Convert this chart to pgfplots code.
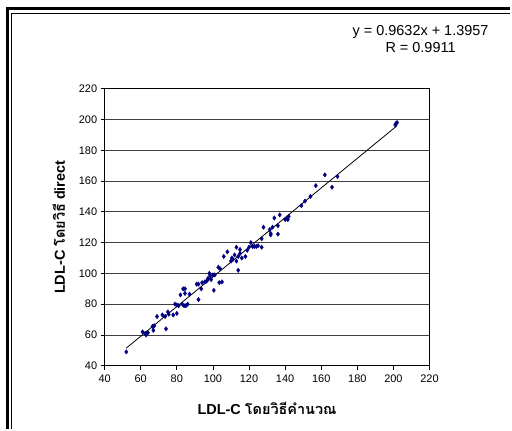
\documentclass[border=0pt]{standalone}
\usepackage{fontspec}
\setmainfont{Liberation Sans}
\newfontfamily\thaifont[Script=Thai]{Loma}
\usepackage{pgfplots}
\pgfplotsset{compat=1.18}
\definecolor{navyb}{RGB}{0,0,128}
\begin{document}
\begin{tikzpicture}
\path (-105bp,-63bp) rectangle (407bp,367bp);
\draw[line width=3.5bp] (-97.5bp,-63bp) -- (-97.5bp,358.5bp) -- (407bp,358.5bp);
\draw[line width=1.2bp] (-93.5bp,-63bp) -- (-93.5bp,353.5bp) -- (407bp,353.5bp);
\begin{axis}[
  at={(0,0)}, anchor=south west,
  scale only axis, width=326bp, height=278bp,
  xmin=40, xmax=220, ymin=40, ymax=220,
  xtick={40,60,...,220}, ytick={40,60,...,220},
  ymajorgrids, grid style={black!75, line width=0.7pt},
  axis line style={black, line width=0.8pt},
  tick align=outside, xtick pos=bottom, ytick pos=left,
  major tick length=4bp, tick style={black, line width=0.7pt},
  /pgf/number format/assume math mode=true,
  ticklabel style={font=\fontsize{11bp}{12bp}\selectfont},
  xticklabel style={yshift=-2bp},
  xlabel={LDL-C {\thaifont\bfseries โดยวิธีคำนวณ}},
  ylabel={LDL-C {\thaifont\bfseries โดยวิธี} direct},
  label style={font=\fontsize{14.5bp}{16bp}\selectfont\bfseries},
  xlabel style={at={(axis description cs:0.5,0)}, anchor=center, yshift=-43bp},
  ylabel style={at={(axis description cs:0,0.5)}, anchor=center, yshift=46bp},
]
\addplot[only marks, mark=diamond*, mark size=2.2bp, color=navyb] coordinates {
(52,49) (61,62) (62.5,61) (63,60) (64,61.5) (66.5,65.5) (67.5,66) (67,63)
(69,72) (72,73) (73.5,72) (74,64) (75,75) (75.5,73.5) (78,73) (79,80)
(80,79.5) (80,74) (81,79) (82,86) (83.5,90) (84.5,90) (83,80) (84,79)
(85,79) (86,80) (84.5,87) (87,86.5) (91,93) (92,93) (92,83) (93.5,90)
(94,94) (95.5,94.5) (96.5,95) (97.3,96.8) (98,100) (98.5,98.5) (99,96) (100,99)
(101,99) (100.5,89) (103,104) (104,103) (103.5,94) (105,94.5) (106,111) (108,114)
(110,108) (110.5,110) (111,109) (112,112) (113,117) (113,108) (114,102) (114,111)
(115,115.5) (115,113) (116,110) (118,111) (119,115) (120,117) (121,120) (122,117.5)
(123,117.5) (124,117.5) (125,118) (127,117) (127,122.5) (128,130) (131.5,128.5) (132,125)
(132,126) (133,130) (134,136) (136,131) (136,125.5) (137,138) (140,135) (141,136)
(141.5,135) (142,137) (149,144) (151,147) (154,150) (157,157) (162,164) (166,156)
(169,163) (201,196.5) (201.5,197.5) (202,198)
};
\addplot[black, line width=0.8pt] coordinates {(52,51.48) (202,195.96)};
\end{axis}
\node[font=\fontsize{14.5bp}{17bp}\selectfont, align=center, anchor=center] at (317bp,327.5bp) {y = 0.9632x + 1.3957\\R = 0.9911};
\end{tikzpicture}
\end{document}
